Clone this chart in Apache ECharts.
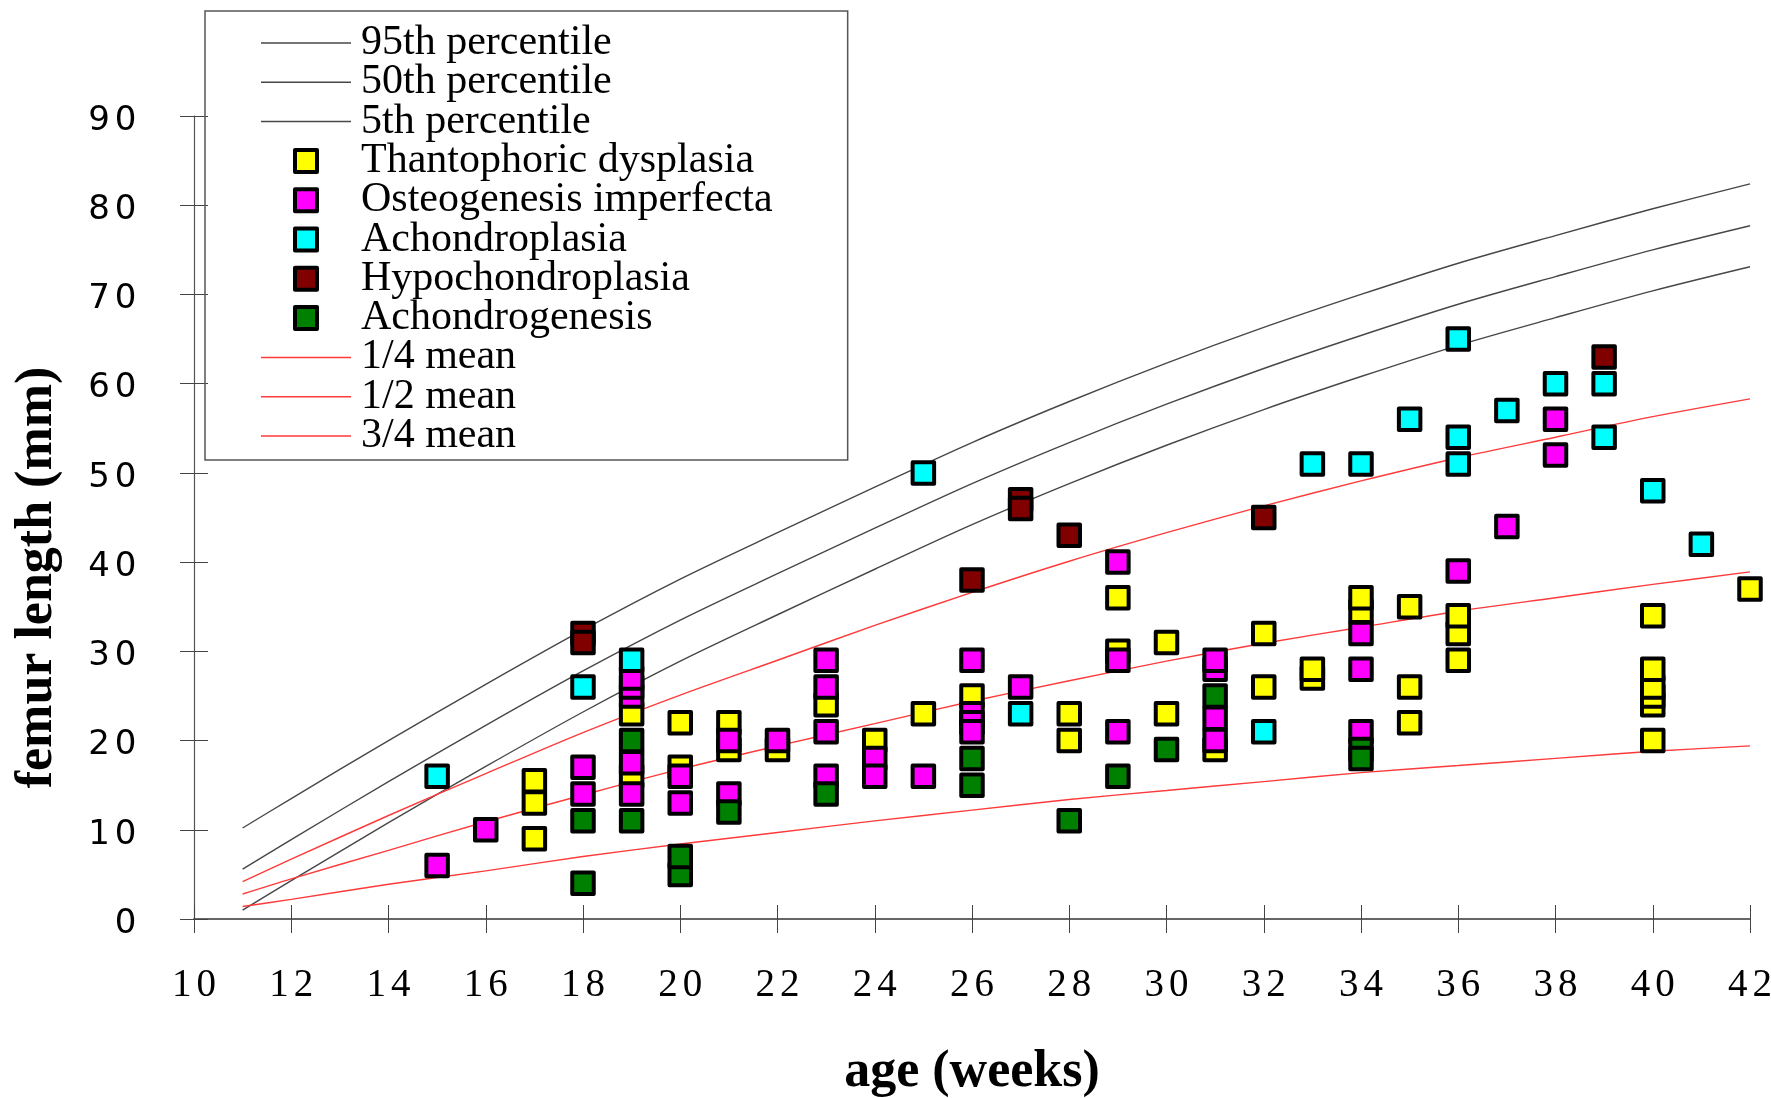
<!DOCTYPE html>
<html><head><meta charset="utf-8">
<script src="https://cdn.jsdelivr.net/npm/echarts@6/dist/echarts.min.js"></script>
<style>html,body{margin:0;padding:0;background:#fff}#c{width:1771px;height:1098px}</style>
</head><body><div id="c"></div>
<script>
// ---- reference curves ----
const curveWeeks = [11,12,14,16,18,20,22,24,26,28,30,32,34,36,38,40,42];
const p95 = [10.2,13.5,20.0,26.3,32.4,38.1,43.3,48.4,53.4,58.0,62.3,66.3,70.0,73.5,76.6,79.6,82.4];
const p50 = [5.6,8.9,15.4,21.7,27.8,33.5,38.7,43.8,48.8,53.4,57.7,61.7,65.4,68.9,72.0,75.0,77.7];
const p5  = [1.0,4.3,10.8,17.1,23.2,28.9,34.1,39.2,44.2,48.8,53.1,57.1,60.8,64.3,67.4,70.4,73.1];
const quarterMean = [1.4,2.2,3.9,5.4,7.0,8.4,9.7,11.0,12.2,13.4,14.4,15.4,16.4,17.2,18.0,18.8,19.4];
const halfMean = [2.8,4.5,7.7,10.9,13.9,16.8,19.4,21.9,24.4,26.7,28.9,30.9,32.7,34.5,36.0,37.5,38.9];
const threeQuarterMean = [4.2,6.7,11.6,16.3,20.9,25.1,29.0,32.9,36.6,40.1,43.3,46.3,49.1,51.7,54.0,56.3,58.3];

// ---- cases: [age (weeks), femur length (mm)] ----
const thantophoric = [[17,15.5],[17,13],[17,9],[19,23],[19,16],[20,22],[20,17],[21,22],[21,19],[22,19],
  [23,24],[24,20],[25,23],[26,25],[28,23],[28,20],[29,36],[29,30],[30,31],[30,23],[31,19],[32,32],[32,26],
  [33,27],[33,28],[34,34.5],[34,36],[35,35],[35,26],[35,22],[36,32],[36,34],[36,29],
  [40,34],[40,24],[40,25],[40,26],[40,28],[40,20],[42,37]];
const osteogenesis = [[15,6],[16,10],[18,17],[18,14],[19,25],[19,26],[19,27],[19,17.5],[19,14],[20,16],[20,13],
  [21,20],[21,14],[22,20],[23,29],[23,26],[23,21],[23,16],[24,18],[24,16],[25,16],[26,29],[26,23],[26,22],[26,21],
  [27,26],[29,40],[29,29],[29,21],[31,28],[31,29],[31,22.5],[31,20],[34,32],[34,28],[34,21],[36,39],[37,44],[38,56],[38,52]];
const achondroplasia = [[15,16],[18,26],[19,29],[25,50],[27,23],[32,21],[33,51],[34,51],[35,56],[36,65],[36,54],[36,51],
  [37,57],[38,60],[39,60],[39,54],[40,48],[41,42]];
const hypochondroplasia = [[18,32],[18,31],[26,38],[27,47],[27,46],[28,43],[32,45],[39,63]];
const achondrogenesis = [[18,11],[18,4],[19,20],[19,11],[20,5],[20,7],[21,12],[23,14],[26,18],[26,15],[28,11],[29,16],
  [30,19],[31,25],[34,19],[34,18]];

const xMin = 10, xMax = 42, xStep = 2;
const yMin = 0, yMax = 90, yStep = 10;

const zip = arr => curveWeeks.map((w, i) => [w, arr[i]]);
const GRAY = '#474747', RED = '#ff3a3a';
const lineSeries = (name, arr, color) => ({
  name, type: 'line', data: zip(arr), symbol: 'none', smooth: 0.3, z: 2, silent: true,
  lineStyle: { color, width: 1.4 }, itemStyle: { color }
});
const boxSeries = (name, data, color) => ({
  name, type: 'scatter', data, symbol: 'rect', symbolSize: 21.5, z: 4, silent: true,
  itemStyle: { color, borderColor: '#000', borderWidth: 4, borderJoin: 'round', opacity: 1 }
});
const squareIcon = 'path://M0 0H10V10H0Z';
const lineIcon = 'path://M0 0H60V1H0Z';
const boxLegend = (name, color) => ({ name, icon: squareIcon, itemStyle: { color, borderColor: '#000', borderWidth: 4 } });
const lineLegend = (name, color) => ({ name, icon: lineIcon, itemStyle: { color, borderWidth: 0 } });
const spaced = (fam, size, pad) => ({
  formatter: v => String(v).split('').map(c => '{d|' + c + '}').join(''),
  rich: { d: { fontFamily: fam, fontSize: size, color: '#000', padding: pad } }
});

const chart = echarts.init(document.getElementById('c'), null, { renderer: 'canvas' });
chart.setOption({
  animation: false,
  backgroundColor: '#fff',
  grid: { left: 194, right: 21, top: 116, bottom: 179, containLabel: false, outerBoundsMode: 'none' },
  legend: {
    orient: 'vertical', left: 205, top: 11, symbolKeepAspect: true,
    padding: [11, 75, 3, 56], itemGap: -2.7, itemWidth: 90, itemHeight: 22,
    borderColor: '#555', borderWidth: 1.5, selectedMode: false,
    textStyle: { fontFamily: 'Liberation Serif', fontSize: 42, color: '#000', padding: [0, 0, 0, 5] },
    data: [
      lineLegend('95th percentile', GRAY), lineLegend('50th percentile', GRAY), lineLegend('5th percentile', GRAY),
      boxLegend('Thantophoric dysplasia', '#ffff00'),
      boxLegend('Osteogenesis imperfecta', '#ff00ff'),
      boxLegend('Achondroplasia', '#00ffff'),
      boxLegend('Hypochondroplasia', '#800000'),
      boxLegend('Achondrogenesis', '#008000'),
      lineLegend('1/4 mean', RED), lineLegend('1/2 mean', RED), lineLegend('3/4 mean', RED)
    ]
  },
  xAxis: [{
    type: 'value', min: xMin, max: xMax, interval: xStep,
    axisLine: { show: true, lineStyle: { color: '#666', width: 2 } },
    axisTick: { show: true, length: 14, lineStyle: { color: '#444', width: 1 } },
    axisLabel: Object.assign({ margin: 47, showMinLabel: true, showMaxLabel: true }, spaced('Liberation Serif', 39, [0, 2.5, 0, 2.5])),
    splitLine: { show: false },
    name: 'age (weeks)', nameLocation: 'middle', nameGap: 128,
    nameTextStyle: { fontFamily: 'Liberation Serif', fontWeight: 'bold', fontSize: 52, color: '#000' }
  }, {
    type: 'value', min: xMin, max: xMax, interval: xStep, position: 'bottom',
    axisLine: { show: false }, axisLabel: { show: false }, splitLine: { show: false },
    axisTick: { show: true, inside: true, length: 14, lineStyle: { color: '#444', width: 1 } }
  }],
  yAxis: [{
    type: 'value', min: yMin, max: yMax, interval: yStep,
    axisLine: { show: true, lineStyle: { color: '#555', width: 1.2 } },
    axisTick: { show: true, length: 14, lineStyle: { color: '#444', width: 1 } },
    axisLabel: Object.assign({ margin: 55 }, spaced('DejaVu Sans', 34, [10, 2.5, 0, 2.5])),
    splitLine: { show: false },
    name: 'femur length (mm)', nameLocation: 'middle', nameGap: 130, nameRotate: 90,
    nameTextStyle: { fontFamily: 'Liberation Serif', fontWeight: 'bold', fontSize: 52, color: '#000', padding: [0, 120, 0, 0] }
  }, {
    type: 'value', min: yMin, max: yMax, interval: yStep, position: 'left',
    axisLine: { show: false }, axisLabel: { show: false }, splitLine: { show: false },
    axisTick: { show: true, inside: true, length: 14, lineStyle: { color: '#444', width: 1 } }
  }],
  series: [
    lineSeries('95th percentile', p95, GRAY),
    lineSeries('50th percentile', p50, GRAY),
    lineSeries('5th percentile', p5, GRAY),
    lineSeries('1/4 mean', quarterMean, RED),
    lineSeries('1/2 mean', halfMean, RED),
    lineSeries('3/4 mean', threeQuarterMean, RED),
    boxSeries('Thantophoric dysplasia', thantophoric, '#ffff00'),
    boxSeries('Osteogenesis imperfecta', osteogenesis, '#ff00ff'),
    boxSeries('Achondroplasia', achondroplasia, '#00ffff'),
    boxSeries('Hypochondroplasia', hypochondroplasia, '#800000'),
    boxSeries('Achondrogenesis', achondrogenesis, '#008000')
  ]
});
</script></body></html>
